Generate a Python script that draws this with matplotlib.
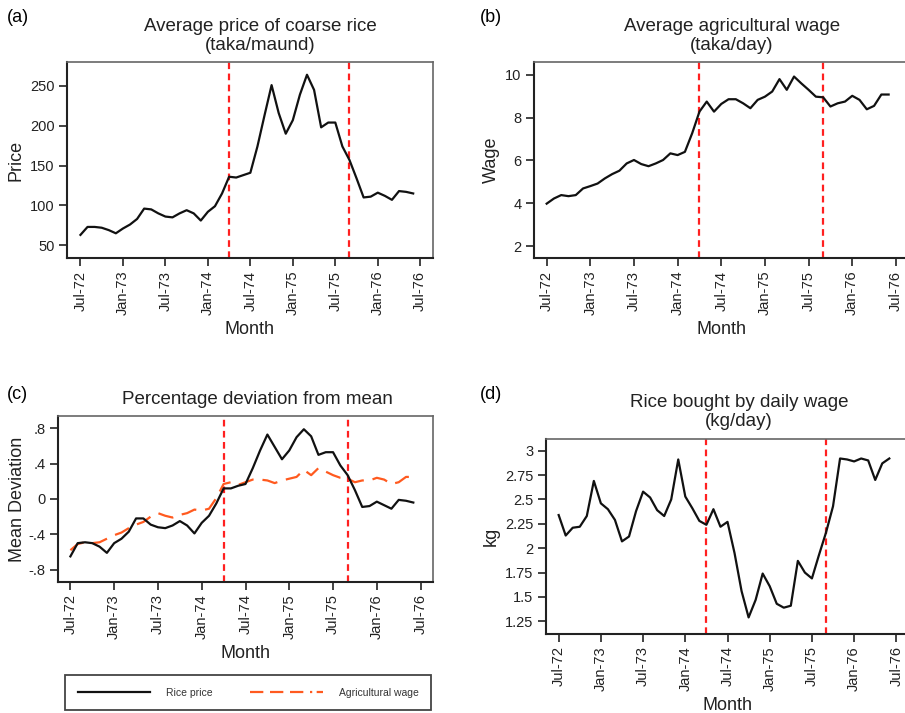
import numpy as np
import matplotlib
matplotlib.use('Agg')
import matplotlib.pyplot as plt
from matplotlib.lines import Line2D

plt.rcParams['font.family'] = ['Liberation Sans Narrow', 'Liberation Sans', 'DejaVu Sans']

# 月次データ (Jul-72 .. Jun-76)
rice_price = [63, 73, 73, 72, 69, 65, 71, 76, 83, 96, 95, 90,
              86, 85, 90, 94, 90, 81, 92, 99, 115, 136, 135, 138,
              141, 174, 213, 251, 216, 190, 207, 239, 264, 245, 198, 204,
              204, 174, 157, 134, 110, 111, 116, 112, 107, 118, 117, 115]

agri_wage = [3.98, 4.22, 4.38, 4.33, 4.38, 4.69, 4.80, 4.92, 5.16, 5.36, 5.52, 5.86,
             6.02, 5.83, 5.73, 5.86, 6.02, 6.33, 6.25, 6.40, 7.27, 8.28, 8.75, 8.28,
             8.64, 8.86, 8.86, 8.67, 8.44, 8.83, 8.98, 9.22, 9.80, 9.30, 9.92, 9.60,
             9.30, 8.98, 8.95, 8.52, 8.67, 8.75, 9.02, 8.83, 8.39, 8.55, 9.08, 9.08]

dev_rice = [-0.65, -0.50, -0.49, -0.50, -0.54, -0.61, -0.50, -0.45, -0.37, -0.22, -0.22, -0.29,
            -0.32, -0.33, -0.30, -0.25, -0.30, -0.39, -0.27, -0.19, -0.05, 0.12, 0.12, 0.15,
            0.17, 0.35, 0.55, 0.73, 0.59, 0.45, 0.55, 0.70, 0.79, 0.71, 0.50, 0.53,
            0.53, 0.38, 0.27, 0.10, -0.09, -0.08, -0.03, -0.07, -0.11, -0.01, -0.02, -0.04]

dev_wage = [-0.58, -0.51, -0.49, -0.50, -0.49, -0.45, -0.41, -0.38, -0.33, -0.29, -0.26, -0.20,
            -0.16, -0.19, -0.21, -0.18, -0.16, -0.12, -0.13, -0.11, 0.01, 0.17, 0.19, 0.16,
            0.19, 0.22, 0.22, 0.21, 0.18, 0.21, 0.23, 0.25, 0.33, 0.27, 0.35, 0.31,
            0.27, 0.24, 0.23, 0.19, 0.21, 0.21, 0.24, 0.22, 0.17, 0.19, 0.25, 0.25]

rice_kg = [2.34, 2.13, 2.21, 2.22, 2.33, 2.69, 2.46, 2.40, 2.29, 2.07, 2.12, 2.38,
           2.58, 2.52, 2.39, 2.33, 2.50, 2.91, 2.53, 2.41, 2.28, 2.24, 2.40, 2.22,
           2.27, 1.95, 1.56, 1.29, 1.47, 1.74, 1.61, 1.43, 1.39, 1.41, 1.87, 1.75,
           1.69, 1.93, 2.16, 2.43, 2.92, 2.91, 2.89, 2.92, 2.90, 2.70, 2.87, 2.92]

months = np.arange(len(rice_price))  # 0 = Jul-72
tick_pos = [0, 6, 12, 18, 24, 30, 36, 42, 48]
tick_labels = ['Jul-72', 'Jan-73', 'Jul-73', 'Jan-74', 'Jul-74',
               'Jan-75', 'Jul-75', 'Jan-76', 'Jul-76']
famine_lines = [21, 38]  # Apr-74, Sep-75

W, H = 905, 713
fig = plt.figure(figsize=(W / 100, H / 100), dpi=100)


def ax_at(l, r, t, b):
    """ピクセル座標で軸を配置"""
    return fig.add_axes([l / W, 1 - b / H, (r - l) / W, (b - t) / H])


def style_axis(ax, yticks, yticklabels, ylim, xlim):
    for m in famine_lines:
        ax.axvline(m, color='#ff2020', linestyle=(0, (3, 2)), linewidth=1.6, zorder=1)
    ax.set_xticks(tick_pos)
    ax.set_xticklabels(tick_labels, rotation=90, fontsize=10.5)
    ax.set_yticks(yticks)
    ax.set_yticklabels(yticklabels, fontsize=10.5)
    ax.set_ylim(ylim)
    ax.set_xlim(xlim)
    ax.tick_params(length=6, width=1.2, color='#222222', pad=3, labelcolor='#222222')
    for s in ['left', 'bottom']:
        ax.spines[s].set_linewidth(1.5)
        ax.spines[s].set_color('#222222')
    for s in ['top', 'right']:
        ax.spines[s].set_linewidth(1.2)
        ax.spines[s].set_color('#666666')
    ax.set_xlabel('Month', fontsize=13, labelpad=4, color='#222222')


# (a) 米価
ax_a = ax_at(67, 433, 62, 258)
ax_a.plot(months, rice_price, color='#111111', linewidth=1.6, zorder=3)
style_axis(ax_a, [50, 100, 150, 200, 250], ['50', '100', '150', '200', '250'],
           (34, 280), (-1.9, 49.8))
ax_a.set_ylabel('Price', fontsize=13, labelpad=4, color='#222222')
fig.text(260 / W, 1 - 36 / H, 'Average price of coarse rice\n(taka/maund)',
         ha='center', va='center', fontsize=13.5, linespacing=1.1, color='#222222')
fig.text(7 / W, 1 - 17 / H, '(a)', ha='left', va='center', fontsize=13)

# (b) 賃金
ax_b = ax_at(534, 909, 62, 258)
ax_b.plot(months, agri_wage, color='#111111', linewidth=1.6, zorder=3)
style_axis(ax_b, [2, 4, 6, 8, 10], ['2', '4', '6', '8', '10'],
           (1.44, 10.6), (-1.74, 49.8))
ax_b.set_ylabel('Wage', fontsize=13, labelpad=4, color='#222222')
fig.text(732 / W, 1 - 36 / H, 'Average agricultural wage\n(taka/day)',
         ha='center', va='center', fontsize=13.5, linespacing=1.1, color='#222222')
fig.text(480 / W, 1 - 17 / H, '(b)', ha='left', va='center', fontsize=13)

# (c) 平均からの乖離
ax_c = ax_at(58, 433, 416, 582)
ax_c.plot(months, dev_rice, color='#111111', linewidth=1.6, zorder=3)
ax_c.plot(months, dev_wage, color='#ff5a1f', linewidth=1.6,
          linestyle=(0, (7, 4)), zorder=2)
style_axis(ax_c, [-0.8, -0.4, 0, 0.4, 0.8], ['-.8', '-.4', '0', '.4', '.8'],
           (-0.94, 0.94), (-1.7, 49.7))
ax_c.set_ylabel('Mean Deviation', fontsize=13, labelpad=2, color='#222222')
fig.text(257 / W, 1 - 400 / H, 'Percentage deviation from mean',
         ha='center', va='center', fontsize=13.5, color='#222222')
fig.text(7 / W, 1 - 395 / H, '(c)', ha='left', va='center', fontsize=13)

# (d) 日給で買える米
ax_d = ax_at(546, 909, 439, 634)
ax_d.plot(months, rice_kg, color='#111111', linewidth=1.6, zorder=3)
kg_ticks = [1.25, 1.5, 1.75, 2, 2.25, 2.5, 2.75, 3]
style_axis(ax_d, kg_ticks, ['1.25', '1.5', '1.75', '2', '2.25', '2.5', '2.75', '3'],
           (1.12, 3.12), (-1.8, 49.8))
ax_d.set_ylabel('kg', fontsize=13, labelpad=4, color='#222222')
fig.text(739 / W, 1 - 412 / H, 'Rice bought by daily wage\n(kg/day)',
         ha='center', va='center', fontsize=13.5, linespacing=1.1, color='#222222')
fig.text(480 / W, 1 - 395 / H, '(d)', ha='left', va='center', fontsize=13)

# 凡例
handles = [Line2D([], [], color='#111111', linewidth=1.6),
           Line2D([], [], color='#ff5a1f', linewidth=1.6, linestyle=(0, (6, 3, 6, 3, 6, 3, 1, 2)))]
leg = fig.legend(handles, ['Rice price', 'Agricultural wage'], loc='upper left',
                 bbox_to_anchor=(65 / W, 1 - 675 / H),
                 ncol=2, fontsize=7.5, fancybox=False,
                 edgecolor='#444444', framealpha=1, handlelength=7.0,
                 borderpad=1.2, borderaxespad=0, handletextpad=1.5,
                 columnspacing=3.6)
leg.get_frame().set_linewidth(1.3)
for t in leg.get_texts():
    t.set_color('#333333')

fig.savefig('out.png', dpi=100)
